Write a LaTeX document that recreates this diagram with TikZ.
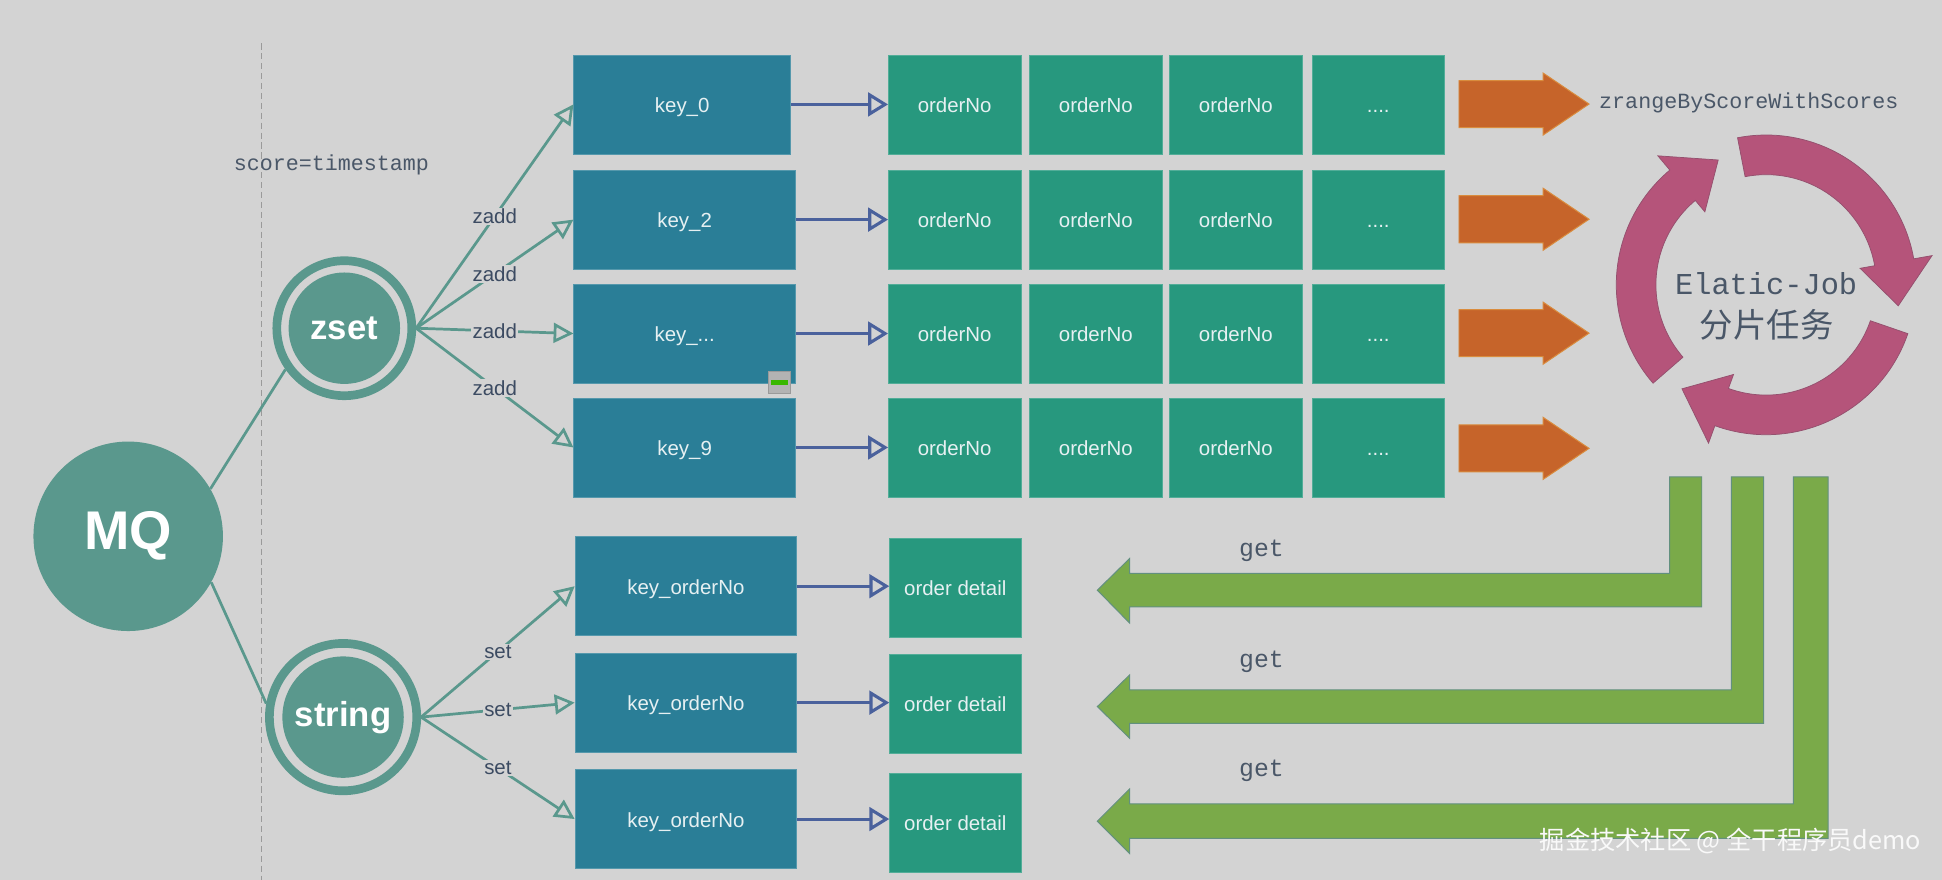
\documentclass[tikz,border=0pt]{standalone}
\usepackage{fontspec}
\setmainfont{Liberation Sans}
\newfontfamily\monof{Liberation Mono}
\newfontfamily\cjkf{Noto Sans CJK SC}
\usetikzlibrary{arrows.meta}
\definecolor{bgc}{HTML}{D3D3D3}
\definecolor{tealc}{HTML}{5A988D}
\definecolor{keyblue}{HTML}{2A7E97}
\definecolor{ordgreen}{HTML}{27987E}
\definecolor{boxtxt}{HTML}{E6F0F2}
\definecolor{lblc}{HTML}{3C4B62}
\definecolor{monoc}{HTML}{4A5768}
\definecolor{barrowc}{HTML}{4A619C}
\definecolor{orangec}{HTML}{C6642A}
\definecolor{orangeb}{HTML}{D98C3E}
\definecolor{pinkc}{HTML}{B5547A}
\definecolor{pinkb}{HTML}{94506E}
\definecolor{greenc}{HTML}{7AAA49}
\definecolor{greenb}{HTML}{62907F}
\definecolor{dashc}{HTML}{9A9A9A}
\begin{document}
\begin{tikzpicture}[x=1pt,y=-1pt,
  keybox/.style={rectangle, fill=keyblue, draw=keyblue!80!white, line width=0.6pt,
    text=boxtxt, font=\fontsize{16.5}{19}\selectfont, minimum height=80pt,
    text height=14pt, text depth=1pt,
    inner sep=0pt, anchor=north west},
  ordbox/.style={keybox, fill=ordgreen, draw=ordgreen!80!white, minimum width=107pt},
  ringc/.style={circle, draw=tealc, line width=7pt, inner sep=0pt},
  innerc/.style={circle, fill=tealc, inner sep=0pt, text=white,
    font=\bfseries\fontsize{28}{32}\selectfont},
  zline/.style={draw=tealc, line width=2.2pt, -{Triangle[open, length=16pt, width=16pt]}},
  bline/.style={draw=barrowc, line width=2.5pt, -{Triangle[open, length=16pt, width=19pt]}},
  lbl/.style={fill=bgc, inner sep=1pt, text=lblc, font=\fontsize{16.5}{19}\selectfont},
  monotxt/.style={text=monoc, inner sep=0pt},
  orangearrow/.style={fill=orangec, draw=orangeb, line width=0.8pt},
  pinkarrow/.style={fill=pinkc, draw=pinkb, line width=0.6pt},
  greenarrow/.style={fill=greenc, draw=greenb, line width=0.8pt, line join=miter}
]
\useasboundingbox (0,0) rectangle (1568,710.5);
\fill[bgc] (0,0) rectangle (1568,710.5);

% divider
\draw[dashc, line width=0.8pt, dash pattern=on 5pt off 3pt] (211,35) -- (211,710.5);

% label score
\node[monotxt, font=\monof\fontsize{17.5}{20}\selectfont] (score) at (267.5,133) {score=timestamp};

% circles
\node[circle, fill=tealc, minimum size=153pt, inner sep=0pt, text=white,
  font=\bfseries\fontsize{44}{48}\selectfont] (mq) at (103.5,433) {MQ};
\node[ringc, minimum size=109pt] (zset) at (278,265) {};
\node[innerc, minimum size=90pt] (zsetin) at (zset.center) {zset};
\node[ringc, minimum size=119pt] (string) at (277,579) {};
\node[innerc, minimum size=98pt] (stringin) at (string.center) {string};

\draw[tealc, line width=2.2pt] (mq.30) -- (zset.215);
\draw[tealc, line width=2.2pt] (mq.-29) -- (string.170);

% key boxes
\node[keybox, minimum width=175pt] (k0) at (463,44) {key\_0};
\node[keybox, minimum width=179pt] (k1) at (463,137) {key\_2};
\node[keybox, minimum width=179pt] (k2) at (463,229) {key\_...};
\node[keybox, minimum width=179pt] (k3) at (463,321) {key\_9};

% orderNo grid
\foreach \r/\y in {0/44,1/137,2/229,3/321}{
  \foreach \c/\x in {0/717,1/831,2/944}{
    \node[ordbox] (o\r\c) at (\x,\y) {orderNo};
  }
  \node[ordbox] (o\r3) at (1059,\y) {....};
}

% resize handle icon
\node[rectangle, draw=dashc, fill=bgc!85!black, minimum width=18pt, minimum height=18pt,
  inner sep=0pt, line width=0.8pt] (icon) at (629.5,309) {};
\fill[green!60!black!70!lime] ([xshift=-7pt,yshift=-2pt]icon.center) rectangle ([xshift=7pt,yshift=2pt]icon.center);

% zadd connectors
\draw[zline] (zset.east) -- node[lbl]{zadd} (k0.west);
\draw[zline] (zset.east) -- node[lbl]{zadd} (k1.west);
\draw[zline] (zset.east) -- node[lbl]{zadd} (k2.west);
\draw[zline] (zset.east) -- node[lbl]{zadd} (k3.west);

\foreach \r in {0,1,2,3}{
  \draw[bline] (k\r.east) -- (o\r0.west);
}

% string part
\node[keybox, minimum width=179pt] (s0) at (464,433) {key\_orderNo};
\node[keybox, minimum width=179pt] (s1) at (464,527) {key\_orderNo};
\node[keybox, minimum width=179pt] (s2) at (464,621) {key\_orderNo};
\node[ordbox, minimum width=106pt] (d0) at (718,434) {order detail};
\node[ordbox, minimum width=106pt] (d1) at (718,528) {order detail};
\node[ordbox, minimum width=106pt] (d2) at (718,624) {order detail};

\draw[zline] (string.east) -- node[lbl]{set} (s0.west);
\draw[zline] (string.east) -- node[lbl]{set} (s1.west);
\draw[zline] (string.east) -- node[lbl]{set} (s2.west);

\foreach \r in {0,1,2}{
  \draw[bline] (s\r.east) -- (s\r.east -| d\r.west);
}

% orange arrows
\foreach \c in {84,177,269,362}{
  \draw[orangearrow] (1178,\c-19) -- (1246,\c-19) -- (1246,\c-25) -- (1283,\c)
    -- (1246,\c+25) -- (1246,\c+19) -- (1178,\c+19) -- cycle;
}
\node[monotxt, font=\monof\fontsize{17.5}{20}\selectfont] (zr) at (1412,83) {zrangeByScoreWithScores};

% pink cycle arrows
\begin{scope}[shift={(1426,230)}, yscale=-1]
  \foreach \t in {101,-19,221}{
    \pgfmathsetmacro{\b}{\t-91}
    \pgfmathsetmacro{\p}{\t-110}
    \draw[pinkarrow] (\t:121) arc[start angle=\t, end angle=\b, radius=121]
      -- (\b:136) -- (\p:108) -- (\b:77) -- (\b:89)
      arc[start angle=\b, end angle=\t, radius=89] -- cycle;
  }
\end{scope}
\node[monotxt, font=\monof\fontsize{24.5}{28}\selectfont] (ej) at (1426,229) {Elatic-Job};
\node[monotxt, font=\cjkf\fontsize{27}{30}\selectfont] (fp) at (1426.5,262) {分片任务};

% green L arrows
\draw[greenarrow] (1348,385) -- (1374,385) -- (1374,490) -- (912,490) -- (912,503)
  -- (886,476.5) -- (912,451) -- (912,463) -- (1348,463) -- cycle;
\draw[greenarrow] (1398,385) -- (1424,385) -- (1424,584) -- (912,584) -- (912,596)
  -- (886,570.5) -- (912,545) -- (912,557) -- (1398,557) -- cycle;
\draw[greenarrow] (1448,385) -- (1476,385) -- (1476,677) -- (912,677) -- (912,689)
  -- (886,663) -- (912,637) -- (912,649) -- (1448,649) -- cycle;

\node[monotxt, font=\monof\fontsize{20}{22}\selectfont] (g0) at (1018.5,445) {get};
\node[monotxt, font=\monof\fontsize{20}{22}\selectfont] (g1) at (1018.5,534) {get};
\node[monotxt, font=\monof\fontsize{20}{22}\selectfont] (g2) at (1018.5,622) {get};

% watermark
\node[anchor=west, inner sep=0pt, text=white!95!gray, font=\cjkf\fontsize{20.4}{23}\selectfont] (wm)
  at (1243,679) {掘金技术社区 @ 全干程序员demo};
\end{tikzpicture}
\end{document}
